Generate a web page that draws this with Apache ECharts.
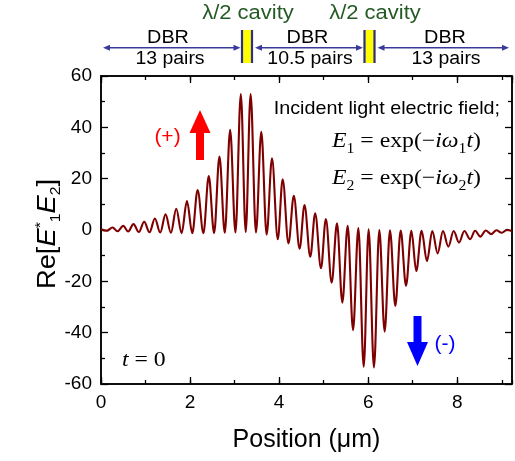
<!DOCTYPE html>
<html><head><meta charset="utf-8">
<script src="https://cdn.jsdelivr.net/npm/echarts@6/dist/echarts.min.js"></script>
<style>html,body{margin:0;padding:0;background:#fff}#c{width:515px;height:461px}</style>
</head><body><div id="c"></div>
<script>
// Extrema (peaks and troughs), in µm and Re[E1*E2]
const positions = [0, 0.13, 0.26, 0.37, 0.50, 0.61, 0.73, 0.85, 0.97, 1.09, 1.21, 1.33, 1.45, 1.57, 1.69, 1.81, 1.93, 2.05, 2.17, 2.30, 2.42, 2.54, 2.66, 2.78, 2.90, 3.02, 3.14, 3.25, 3.36, 3.48, 3.60, 3.72, 3.84, 3.97, 4.08, 4.21, 4.33, 4.46, 4.57, 4.70, 4.81, 4.94, 5.05, 5.18, 5.30, 5.42, 5.54, 5.66, 5.78, 5.90, 6.01, 6.13, 6.25, 6.37, 6.49, 6.61, 6.73, 6.85, 6.97, 7.08, 7.20, 7.32, 7.44, 7.56, 7.68, 7.80, 7.92, 8.04, 8.16, 8.29, 8.40, 8.52, 8.64, 8.76, 8.88, 9.00, 9.12, 9.23];
const values = [0.3, -0.3, 1.0, -0.5, 1.6, -0.6, 2.3, -0.8, 3.2, -0.9, 4.5, -1.0, 6.1, -1.1, 8.3, -1.2, 11.3, -1.2, 15.6, -1.2, 21.0, -1.2, 28.6, -1.1, 39.0, -1.0, 53.0, -0.8, 53.0, -1.0, 38.3, -1.8, 27.9, -3.6, 19.8, -5.2, 13.3, -7.3, 9.7, -10.4, 6.5, -14.9, 4.3, -20.5, 2.6, -28.3, 1.6, -39.0, 0.8, -53.3, 0.3, -53.6, 0.0, -39.6, -0.1, -29.6, -0.2, -21.7, -0.3, -16.0, -0.3, -12.1, -0.4, -9.1, -0.4, -6.5, -0.4, -4.9, -0.4, -3.6, -0.3, -2.6, -0.2, -1.6, -0.1, -1.1, 0.1, -0.5];
const xTickLabels = ['0', '2', '4', '6', '8'];
const yTickLabels = ['-60', '-40', '-20', '0', '20', '40', '60'];
const xRange = [0, 9.23];
const yRange = [-60, 60];

const sans = 'Liberation Sans, Arial, sans-serif';
const serif = 'Liberation Serif, Times New Roman, serif';
const navy = '#3a3a9c';
const green = '#245a24';
const ink = '#000';

const chart = echarts.init(document.getElementById('c'), null, {renderer: 'canvas'});

function axisX(grid, pos, interval, tickLen, labels, line) {
  return {
    type: 'value', gridIndex: grid, position: pos, min: xRange[0], max: xRange[1], interval: interval,
    axisLine: {show: line, onZero: false, lineStyle: {color: ink, width: 1.5}},
    axisTick: {show: true, inside: true, length: tickLen, lineStyle: {color: ink, width: 1.3}},
    axisLabel: {show: labels, color: '#000', fontSize: 19, fontFamily: sans, margin: 9, showMaxLabel: false,
      formatter: v => xTickLabels.indexOf(String(v)) >= 0 ? String(v) : ''},
    splitLine: {show: false}
  };
}
function axisY(grid, pos, labels, visible) {
  return {
    type: 'value', gridIndex: grid, position: pos, min: yRange[0], max: yRange[1], interval: 20,
    show: visible,
    axisLine: {show: true, onZero: false, lineStyle: {color: ink, width: 1.5}},
    axisTick: {show: true, inside: true, length: 7, lineStyle: {color: ink, width: 1.3}},
    minorTick: {show: true, splitNumber: 2, length: 4, lineStyle: {color: ink, width: 1.3}},
    axisLabel: {show: labels, color: '#000', fontSize: 19, fontFamily: sans, margin: 9,
      formatter: v => yTickLabels.indexOf(String(v)) >= 0 ? String(v) : ''},
    splitLine: {show: false}
  };
}

const xMain = axisX(0, 'bottom', 2, 7, true, true);
xMain.name = 'Position (μm)';
xMain.nameLocation = 'middle';
xMain.nameGap = 44;
xMain.nameTextStyle = {fontSize: 25, fontFamily: sans, color: '#000'};

const yMain = axisY(0, 'left', true, true);

const eqRich = {
  i: {fontSize: 21, lineHeight: 30, fontStyle: 'italic', fontFamily: serif, fill: '#000'},
  r: {fontSize: 21, lineHeight: 30, fontFamily: serif, fill: '#000'},
  s: {fontSize: 14, lineHeight: 12, verticalAlign: 'bottom', fontFamily: serif, fill: '#000'}
};
const yNameRich = {
  r: {fontSize: 26, lineHeight: 30, fontFamily: sans, fill: '#000'},
  i: {fontSize: 26, lineHeight: 30, fontStyle: 'italic', fontFamily: sans, fill: '#000'},
  sup: {fontSize: 15, lineHeight: 14, verticalAlign: 'top', fontFamily: sans, fill: '#000'},
  sub: {fontSize: 15, lineHeight: 12, verticalAlign: 'bottom', fontFamily: sans, fill: '#000'}
};

function arrowH(x1, x2, y) {
  const hl = 7, hw = 3;
  return [
    {type: 'line', shape: {x1: x1 + hl - 1, y1: y, x2: x2 - hl + 1, y2: y}, style: {stroke: navy, lineWidth: 1.4}},
    {type: 'polygon', shape: {points: [[x1, y], [x1 + hl, y - hw], [x1 + hl, y + hw]]}, style: {fill: navy}},
    {type: 'polygon', shape: {points: [[x2, y], [x2 - hl, y - hw], [x2 - hl, y + hw]]}, style: {fill: navy}}
  ];
}
function cavity(x1, x2) {
  return [
    {type: 'rect', shape: {x: x1, y: 30, width: x2 - x1, height: 33}, style: {fill: '#ffff00'}},
    {type: 'line', shape: {x1: x1 + 1, y1: 30, x2: x1 + 1, y2: 63}, style: {stroke: '#2e2e8f', lineWidth: 2.2}},
    {type: 'line', shape: {x1: x2 - 1, y1: 30, x2: x2 - 1, y2: 63}, style: {stroke: '#2e2e8f', lineWidth: 2.2}}
  ];
}
function label(text, x, y, size, color, align, sx) {
  return {type: 'text', x: x, y: y, scaleX: sx || 1, style: {text: text, fontSize: size, fontFamily: sans, fill: color,
    align: align || 'center', verticalAlign: 'middle'}};
}
function eq(text, x, y) {
  return {type: 'text', x: x, y: y, scaleX: 1.13, style: {text: text, rich: eqRich, verticalAlign: 'middle', align: 'left'}};
}

const graphics = [].concat(
  arrowH(103, 240.5, 47.7),
  arrowH(255, 363, 47.7),
  arrowH(377.5, 509, 47.7),
  cavity(241, 253),
  cavity(363.5, 375.5),
  [
    label('λ/2 cavity', 248, 13, 20, green, 'center', 1.1),
    label('λ/2 cavity', 375, 13, 20, green, 'center', 1.1),
    label('DBR', 168, 38.5, 18, '#000', 'center', 1.1),
    label('13 pairs', 170, 59, 18, '#000', 'center', 1.08),
    label('DBR', 307.5, 38.5, 18, '#000', 'center', 1.1),
    label('10.5 pairs', 310, 59, 18, '#000', 'center', 1.08),
    label('DBR', 445, 38.5, 18, '#000', 'center', 1.1),
    label('13 pairs', 446, 59, 18, '#000', 'center', 1.08),
    label('Incident light electric field;', 500, 109, 19, '#000', 'right', 1.04),
    label('(+)', 167.5, 137.5, 21, '#ff0000'),
    label('(-)', 445, 344, 21, '#0000ff'),
    {type: 'polygon', shape: {points: [[200, 110], [210.5, 133], [204, 133], [204, 160], [196, 160], [196, 133], [189.5, 133]]}, style: {fill: '#ff0000'}},
    {type: 'polygon', shape: {points: [[417.5, 366], [428, 342], [421.5, 342], [421.5, 316], [413.5, 316], [413.5, 342], [407, 342]]}, style: {fill: '#0000ff'}},
    eq('{i|E}{s|1}{r| = exp(−}{i|iω}{s|1}{i|t}{r|)}', 332, 141.7),
    eq('{i|E}{s|2}{r| = exp(−}{i|iω}{s|2}{i|t}{r|)}', 332, 178),
    eq('{i|t}{r| = 0}', 122, 360),
    {type: 'text', x: 48, y: 234, rotation: Math.PI / 2, scaleX: 1.05,
      style: {text: '{r|Re[}{i|E}{sup|*}{sub|1}{i|E}{sub|2}{r|]}', rich: yNameRich, align: 'center', verticalAlign: 'middle'}}
  ]
);

const gridRect = {left: 101, right: 3, top: 76, bottom: 77, containLabel: false};

chart.setOption({
  animation: false,
  backgroundColor: '#fff',
  grid: [
    Object.assign({show: true, borderColor: ink, borderWidth: 1.5, backgroundColor: 'rgba(0,0,0,0)'}, gridRect),
    Object.assign({show: false}, gridRect)
  ],
  xAxis: [
    xMain,
    axisX(0, 'top', 2, 7, false, true),
    axisX(1, 'bottom', 1, 4, false, false),
    axisX(1, 'top', 1, 4, false, false)
  ],
  yAxis: [
    yMain,
    axisY(0, 'right', false, true),
    axisY(1, 'left', false, false)
  ],
  series: [{
    type: 'line',
    xAxisIndex: 0, yAxisIndex: 0,
    data: positions.map((x, i) => [x, values[i]]),
    showSymbol: false,
    smooth: 0.35,
    smoothMonotone: 'x',
    clip: true,
    lineStyle: {color: '#7f0000', width: 2.1}
  }],
  graphic: graphics
});
</script></body></html>
